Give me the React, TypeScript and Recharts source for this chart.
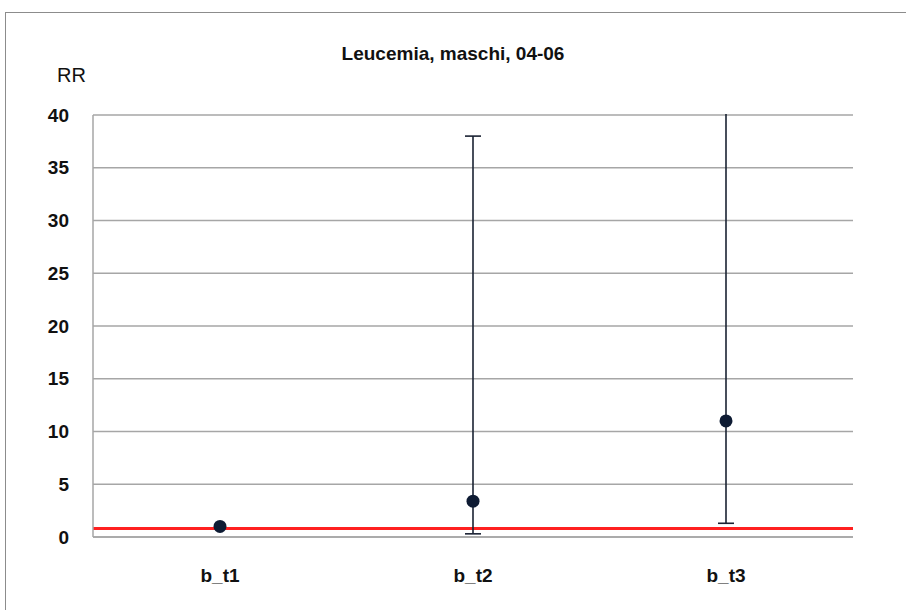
import { CartesianGrid, ErrorBar, Line, LineChart, ReferenceLine, XAxis, YAxis } from 'recharts';

const categories = ['b_t1', 'b_t2', 'b_t3'];
const rr = [1.0, 3.4, 11.0];
const ciLow: (number | null)[] = [null, 0.3, 1.3];
const ciHigh: (number | null)[] = [null, 38.0, 60.0];
const yTicks = [0, 5, 10, 15, 20, 25, 30, 35, 40];
const reference = 0.8;

const data = categories.map((name, i) => ({
  name,
  rr: rr[i],
  err: ciLow[i] == null || ciHigh[i] == null ? null : [rr[i] - (ciLow[i] as number), (ciHigh[i] as number) - rr[i]],
}));

const font = '"Liberation Sans", Arial, sans-serif';

export default function App() {
  return (
    <div style={{ position: 'absolute', left: 0, top: 0, width: 906, height: 610, background: '#fff', overflow: 'hidden' }}>
      <LineChart
        width={906}
        height={610}
        data={data}
        margin={{ top: 115, right: 53, left: 33, bottom: 23 }}
        style={{ position: 'absolute', left: 0, top: 0 }}
      >
        <CartesianGrid vertical={false} stroke="#a6a6a6" strokeWidth={1.5} />
        <XAxis
          dataKey="name"
          stroke="#a6a6a6"
          strokeWidth={1.5}
          tickLine={false}
          tickMargin={26}
          height={50}
          padding={{ left: 127, right: 127 }}
          tick={{ fill: '#111', fontFamily: font, fontSize: 19, fontWeight: 'bold' }}
        />
        <YAxis
          domain={[0, 40]}
          ticks={yTicks}
          allowDataOverflow
          stroke="#a6a6a6"
          strokeWidth={1.5}
          tickLine={false}
          tickMargin={18}
          width={60}
          tick={{ fill: '#111', fontFamily: font, fontSize: 19, fontWeight: 'bold' }}
        />
        <ReferenceLine y={reference} stroke="#ff2020" strokeWidth={3} />
        <Line
          dataKey="rr"
          stroke="none"
          isAnimationActive={false}
          dot={{ r: 6.5, fill: '#0e1b33', stroke: 'none' }}
          activeDot={false}
        >
          <ErrorBar dataKey="err" direction="y" width={8} stroke="#1a2233" strokeWidth={1.6} />
        </Line>
      </LineChart>
      {/* hide the part of the open interval above the axis top */}
      <div style={{ position: 'absolute', left: 100, top: 0, width: 806, height: 114, background: '#fff' }} />
      {/* chart frame */}
      <div style={{ position: 'absolute', left: 5, top: 12, width: 920, height: 620, borderLeft: '1px solid #8c8c8c', borderTop: '1px solid #8c8c8c' }} />
      <div style={{ position: 'absolute', left: 0, width: 906, top: 43, textAlign: 'center', fontFamily: font, fontWeight: 'bold', fontSize: 19, color: '#111' }}>
        Leucemia, maschi, 04-06
      </div>
      <div style={{ position: 'absolute', left: 57, top: 64, fontFamily: font, fontSize: 20, color: '#111' }}>RR</div>
    </div>
  );
}
